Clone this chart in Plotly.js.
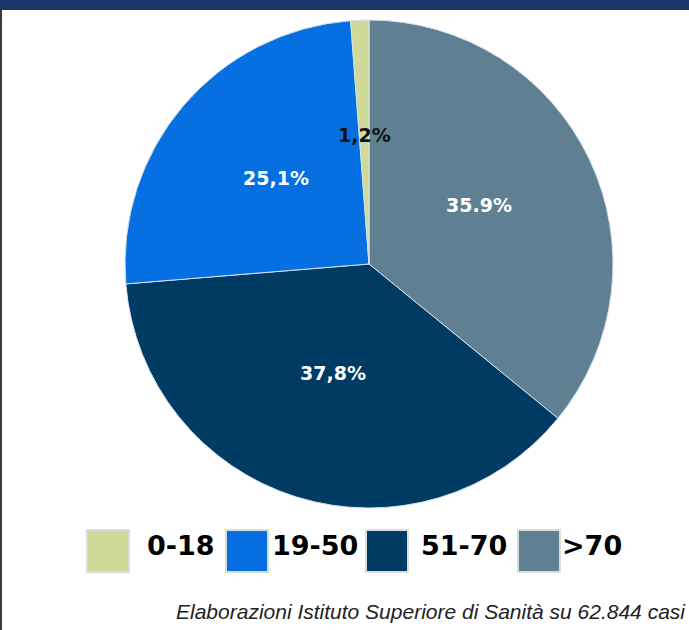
<!DOCTYPE html>
<html>
<head>
<meta charset="utf-8">
<script src="https://cdn.plot.ly/plotly-3.0.1.min.js"></script>
<style>
  html, body { margin: 0; padding: 0; background: #ffffff; }
  #chart { width: 689px; height: 630px; }
</style>
</head>
<body>
<div id="chart"></div>
<script>
// ---- data ----
const categories = ["0-18", "19-50", "51-70", ">70"];
const values = [1.2, 25.1, 37.8, 35.9];
const valueLabels = ["1,2%", "25,1%", "37,8%", "35.9%"];
const sliceColors = ["#d0da98", "#0670e2", "#003b64", "#5f7f93"];
const labelColors = ["#111111", "#ffffff", "#ffffff", "#ffffff"];
const caption = "Elaborazioni Istituto Superiore di Sanità su 62.844 casi";

// ---- geometry ----
const W = 689, H = 630;
const cx = 369, cy = 264, R = 244;
const px = x => x / W;
const py = y => 1 - y / H;

const labelFont = "DejaVu Sans, Open Sans, sans-serif";

// pie label annotations along each slice's mid-angle (counterclockwise from 12 o'clock, legend order)
const total = values.reduce((a, b) => a + b, 0);
let cum = 0;
const annotations = [];
values.forEach((v, i) => {
  const mid = (cum + v / 2) / total;
  cum += v;
  const th = 2 * Math.PI * mid;
  const rr = 0.5 * R;
  const x = cx - rr * Math.sin(th);
  const y = cy - rr * Math.cos(th) - 7;
  annotations.push({
    x: px(x), y: py(y), xref: "paper", yref: "paper",
    text: valueLabels[i], showarrow: false,
    xanchor: "center", yanchor: "middle",
    font: { family: labelFont, size: 19, weight: 700, color: labelColors[i] }
  });
});

// legend (custom large swatches)
const boxLeft = [87, 226, 366, 518];
const textLeft = [145, 270, 419, 560];
const boxTop = 530, boxSize = 42;
const shapes = [];
categories.forEach((c, i) => {
  shapes.push({
    type: "rect", xref: "paper", yref: "paper",
    x0: px(boxLeft[i]), x1: px(boxLeft[i] + boxSize),
    y0: py(boxTop + boxSize), y1: py(boxTop),
    fillcolor: sliceColors[i],
    line: { color: "#dcdcdc", width: 2 }
  });
  annotations.push({
    x: px(textLeft[i]), y: py(545), xref: "paper", yref: "paper",
    text: c, showarrow: false, xanchor: "left", yanchor: "middle",
    font: { family: labelFont, size: 27, weight: 700, color: "#000000" }
  });
});

// top banner and left frame line
shapes.push({
  type: "rect", xref: "paper", yref: "paper",
  x0: 0, x1: 1, y0: py(10), y1: 1,
  fillcolor: "#1b3569", line: { width: 0 }
});
shapes.push({
  type: "line", xref: "paper", yref: "paper",
  x0: px(1), x1: px(1), y0: 0, y1: py(10),
  line: { color: "#3a3a3a", width: 2 }
});

annotations.push({
  x: px(688), y: py(611), xref: "paper", yref: "paper",
  text: "<i>" + caption + "</i>", showarrow: false,
  xanchor: "right", yanchor: "middle",
  font: { family: "Liberation Sans, Arial, sans-serif", size: 21, color: "#222222" }
});

// plotted clockwise from 12 o'clock in reverse legend order (matches the reference layout)
const trace = {
  type: "pie",
  labels: categories.slice().reverse(),
  values: values.slice().reverse(),
  sort: false,
  direction: "clockwise",
  rotation: 0,
  textinfo: "none",
  hoverinfo: "none",
  showlegend: false,
  marker: { colors: sliceColors.slice().reverse(), line: { color: "#d6e2ec", width: 1 } },
  domain: { x: [px(cx - R), px(cx + R)], y: [py(cy + R), py(cy - R)] }
};

const layout = {
  width: W, height: H,
  margin: { l: 0, r: 0, t: 0, b: 0 },
  paper_bgcolor: "#ffffff",
  showlegend: false,
  shapes: shapes,
  annotations: annotations
};

Plotly.newPlot("chart", [trace], layout, { displayModeBar: false, staticPlot: true });
</script>
</body>
</html>
